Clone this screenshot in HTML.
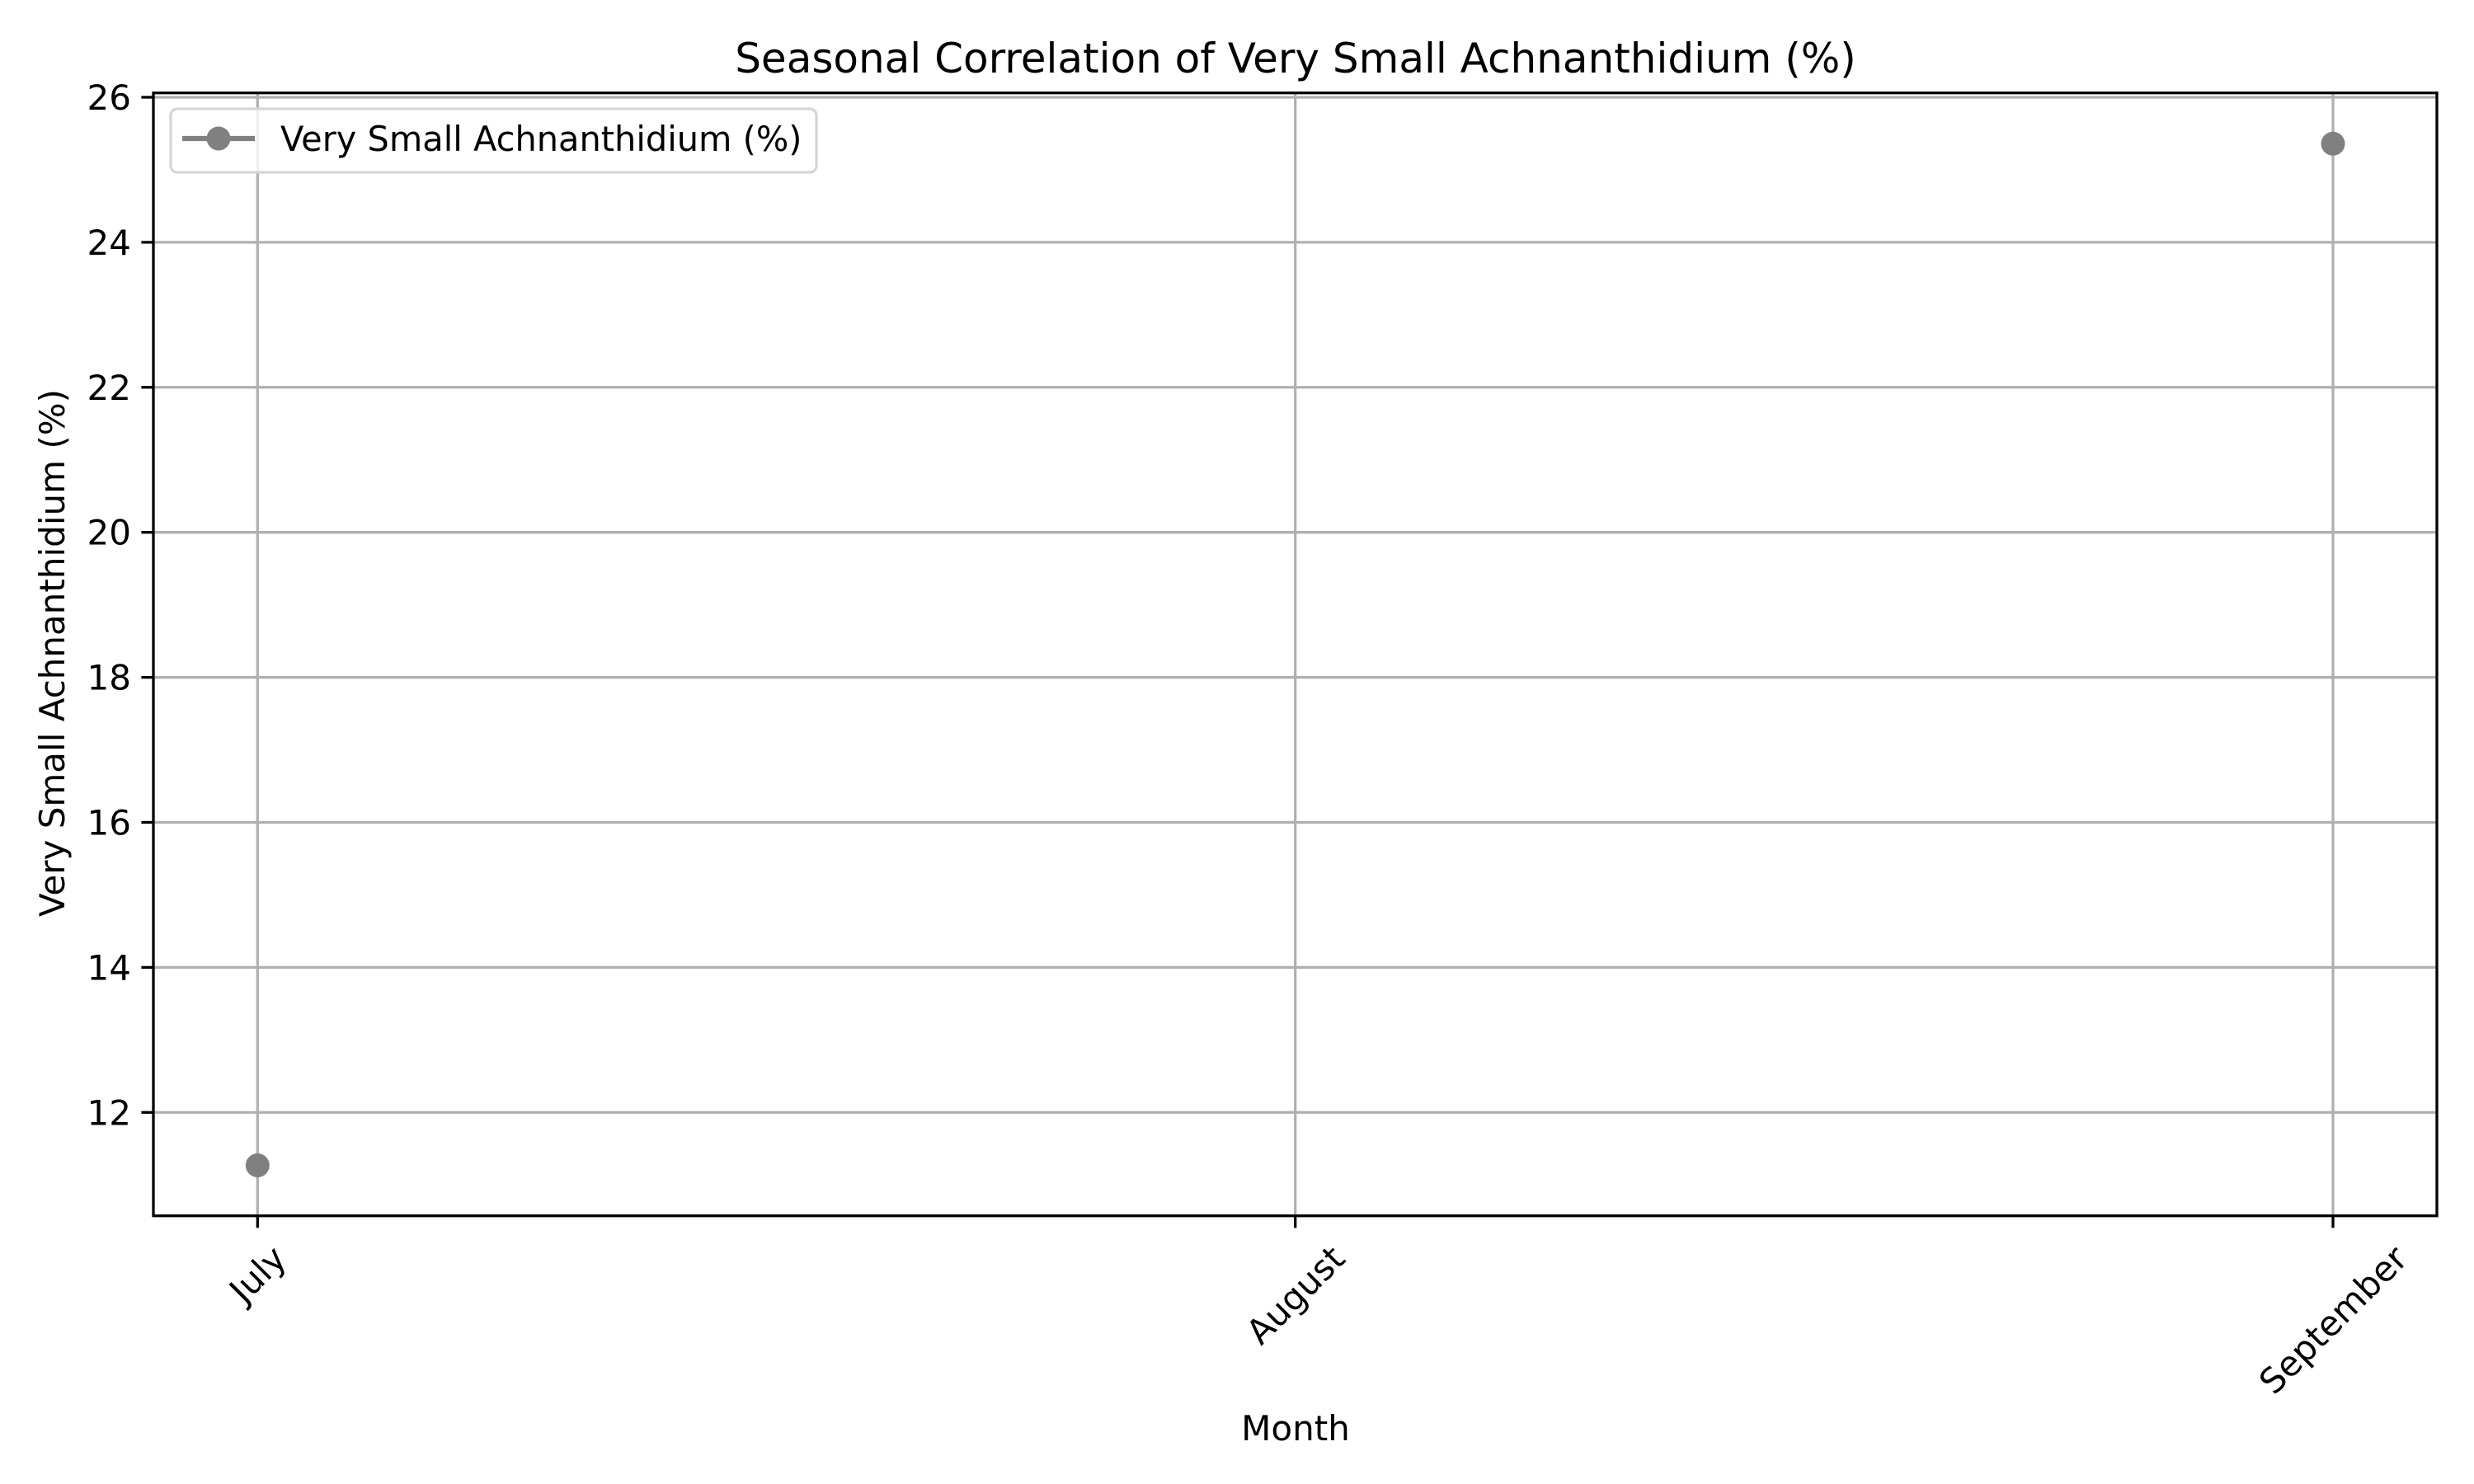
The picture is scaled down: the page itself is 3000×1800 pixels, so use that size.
<!DOCTYPE html>
<html><head><meta charset="utf-8"><style>
html,body{margin:0;padding:0;background:#fff}
svg{display:block}
text{font-family:"DejaVu Sans","Liberation Sans",sans-serif;fill:#000}
</style></head><body>
<svg id="chart" width="3000" height="1800" viewBox="0 0 3000 1800">
<rect width="3000" height="1800" fill="#fff"/>
<g id="grid"></g>
<g id="series"></g>
<rect x="186" y="112.7" width="2769" height="1362" fill="none" stroke="#000" stroke-width="3.3"/>
<g id="yticks"></g>
<g id="xticks"></g>
<text x="1571" y="88" font-size="50" text-anchor="middle">Seasonal Correlation of Very Small Achnanthidium (%)</text>
<text x="1571" y="1747" font-size="42" text-anchor="middle">Month</text>
<text transform="translate(78,792) rotate(-90)" font-size="42" text-anchor="middle">Very Small Achnanthidium (%)</text>
<g>
<rect x="207" y="132" width="783" height="77" rx="8" fill="#fff" fill-opacity="0.8" stroke="#d6d6d6" stroke-width="3.3"/>
<line x1="221" y1="168" x2="309" y2="168" stroke="#808080" stroke-width="6.25"/>
<circle cx="265" cy="168" r="14.5" fill="#808080"/>
<text x="340" y="183" font-size="41.5">Very Small Achnanthidium (%)</text>
</g>
</svg>
<script>
const categories = ["July", "August", "September"];
const values = [11.27, null, 25.36];
const yTicks = [12, 14, 16, 18, 20, 22, 24, 26];

const L = 186, R = 2955, T = 112.7, B = 1474.7;
const yMin = 10.574, yMax = 26.06;
const x0 = 312.3, x1 = 2829;
function xs(i){ return x0 + (x1 - x0) * i / (categories.length - 1); }
function ys(v){ return B - (v - yMin) / (yMax - yMin) * (B - T); }
const NS = "http://www.w3.org/2000/svg";
function mk(tag, attrs, parent){ const e = document.createElementNS(NS, tag); for (const k in attrs) e.setAttribute(k, attrs[k]); parent.appendChild(e); return e; }
const grid = document.getElementById('grid'), yt = document.getElementById('yticks'), xt = document.getElementById('xticks'), ser = document.getElementById('series');

yTicks.forEach(v => {
  const y = ys(v);
  const g = mk('line', {x1: L, x2: R, y1: y, y2: y, stroke: '#b0b0b0', 'stroke-width': 3.3}, grid);
  
  
  const t = mk('line', {x1: L - 14.6, x2: L, y1: y, y2: y, stroke: '#000', 'stroke-width': 3.3}, yt);
  
  
  const lb = mk('text', {x: L - 27, y: y + 15, 'font-size': 42, 'text-anchor': 'end'}, yt);
  lb.textContent = v;
  
  
});

categories.forEach((c, i) => {
  const x = xs(i);
  const g = mk('line', {x1: x, x2: x, y1: T, y2: B, stroke: '#b0b0b0', 'stroke-width': 3.3}, grid);
  
  
  const t = mk('line', {x1: x, x2: x, y1: B, y2: B + 14.6, stroke: '#000', 'stroke-width': 3.3}, xt);
  
  
  const lb = mk('text', {'font-size': 42, 'text-anchor': 'middle'}, xt);
  lb.textContent = c;
  
  
  const w = lb.getComputedTextLength();
  const h = 42;
  const half = (w + h) * Math.SQRT1_2 / 2;
  const cy = B + 29 + half;
  lb.setAttribute('transform', `translate(${x},${cy}) rotate(-45) translate(0,15)`);
});

for (let i = 0; i < values.length - 1; i++) {
  if (values[i] == null || values[i+1] == null) continue;
  const ln = mk('line', {x1: xs(i), y1: ys(values[i]), x2: xs(i+1), y2: ys(values[i+1]), stroke: '#808080', 'stroke-width': 6.25}, ser);
  
  
}
values.forEach((v, i) => {
  if (v == null) return;
  const c = mk('circle', {cx: xs(i), cy: ys(v), r: 14.5, fill: '#808080'}, ser);
  
  
});
</script>
</body></html>
